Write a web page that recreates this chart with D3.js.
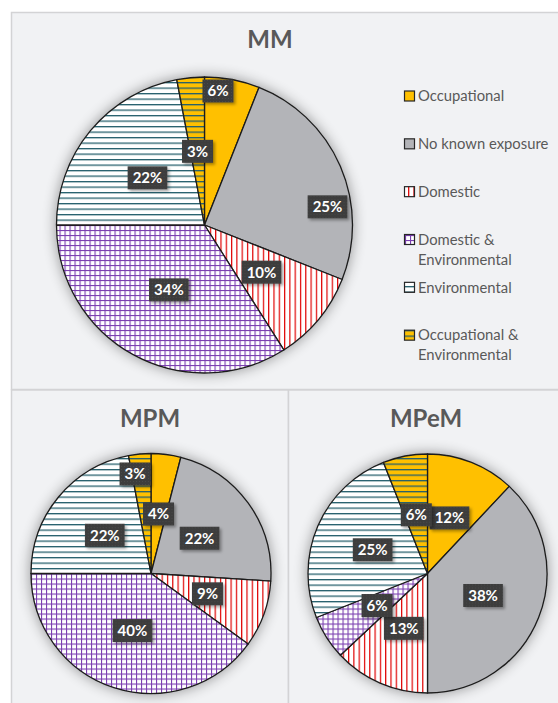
<!DOCTYPE html>
<html>
<head>
<meta charset="utf-8">
<script src="https://cdn.jsdelivr.net/npm/d3@7"></script>
<style>
  html, body { margin: 0; padding: 0; background: #ffffff; }
  svg { display: block; }
</style>
</head>
<body>
<svg id="chart" width="558" height="703"></svg>
<script>
// ---------------- DATA ----------------
const categories = ["Occupational", "No known exposure", "Domestic",
  "Domestic & Environmental", "Environmental", "Occupational & Environmental"];
const legendLines = [["Occupational"], ["No known exposure"], ["Domestic"],
  ["Domestic &", "Environmental"], ["Environmental"], ["Occupational &", "Environmental"]];
const chartTitles = ["MM", "MPM", "MPeM"];
const mmValues   = [6, 25, 10, 34, 22, 3];
const mpmValues  = [4, 22, 9, 40, 22, 3];
const mpemValues = [12, 38, 13, 6, 25, 6];

// ---------------- STYLE / LAYOUT ----------------
const fillIds = ["occ", "nke", "dom", "de", "env", "oe"];
const panelBg = "#f1f2f4", panelBorder = "#d3d3d5", textGray = "#595959";
const FONT = "Lato, 'Open Sans', 'DejaVu Sans', sans-serif";
const layouts = [
  { cx: 204.5, cy: 225,   r: 148,   tx: 270,   ty: 48  },
  { cx: 151,   cy: 573.5, r: 120,   tx: 150,   ty: 427 },
  { cx: 427.5, cy: 573.5, r: 119.5, tx: 426,   ty: 427 }
];
// labels Excel moved away from the default centroid: [chart, slice] -> radial fraction, angle (deg)
const labelMoves = { "0-0": [0.91, 5.75], "0-1": [0.84, 81.6], "1-5": [0.84, -9.1] };

const svg = d3.select("#chart");
const defs = svg.append("defs");

function pat(id, w, h, bg, draw) {
  const p = defs.append("pattern").attr("id", id).attr("patternUnits", "userSpaceOnUse")
    .attr("width", w).attr("height", h);
  p.append("rect").attr("width", w).attr("height", h).attr("fill", bg);
  if (draw) draw(p);
  return p;
}
pat("occ", 4, 4, "#ffc000");
pat("nke", 4, 4, "#b3b4b8");
pat("dom", 5.3, 6, "#ffffff", p => p.append("rect").attr("x", 0).attr("y", 0).attr("width", 1.2).attr("height", 6).attr("fill", "#e00000"));
pat("de", 5, 5, "#ffffff", p => {
  p.append("rect").attr("x", 0).attr("y", 0).attr("width", 1.1).attr("height", 5).attr("fill", "#7b3fb0");
  p.append("rect").attr("x", 0).attr("y", 0).attr("width", 5).attr("height", 1.1).attr("fill", "#7b3fb0");
});
pat("env", 6, 5.5, "#ffffff", p => p.append("rect").attr("x", 0).attr("y", 0).attr("width", 6).attr("height", 1.3).attr("fill", "#245f6c"));
pat("oe", 6, 5.5, "#ffc000", p => p.append("rect").attr("x", 0).attr("y", 0).attr("width", 6).attr("height", 1.3).attr("fill", "#245f6c"));
pat("lbl", 3, 3, "#3d3d3d", p => p.append("rect").attr("x", 1).attr("y", 1).attr("width", 1).attr("height", 1).attr("fill", "#494949"));

const glow = defs.append("filter").attr("id", "glow").attr("x", "-30%").attr("y", "-30%").attr("width", "160%").attr("height", "160%");
glow.append("feGaussianBlur").attr("in", "SourceAlpha").attr("stdDeviation", 7).attr("result", "b");
glow.append("feComponentTransfer").attr("in", "b").attr("result", "s")
  .append("feFuncA").attr("type", "linear").attr("slope", 0.4);
const gm = glow.append("feMerge");
gm.append("feMergeNode").attr("in", "s");
gm.append("feMergeNode").attr("in", "SourceGraphic");

const ds = defs.append("filter").attr("id", "lblShadow").attr("x", "-30%").attr("y", "-30%").attr("width", "160%").attr("height", "160%");
ds.append("feDropShadow").attr("dx", 2).attr("dy", 2).attr("stdDeviation", 1.5).attr("flood-color", "#000").attr("flood-opacity", 0.35);

// ---------------- PANELS ----------------
svg.append("rect").attr("x", 11.5).attr("y", 12.5).attr("width", 560).attr("height", 377)
  .attr("fill", panelBg).attr("stroke", panelBorder).attr("stroke-width", 1.5);
svg.append("rect").attr("x", 11.5).attr("y", 390).attr("width", 277).attr("height", 330)
  .attr("fill", panelBg).attr("stroke", panelBorder).attr("stroke-width", 1.5);
svg.append("rect").attr("x", 288.5).attr("y", 390).attr("width", 280).attr("height", 330)
  .attr("fill", panelBg).attr("stroke", panelBorder).attr("stroke-width", 1.5);

// ---------------- PIES ----------------
const allValues = [mmValues, mpmValues, mpemValues];
const pie = d3.pie().sort(null).value(d => d);

allValues.forEach((vals, ci) => {
  const L = layouts[ci];
  const g = svg.append("g").attr("transform", `translate(${L.cx},${L.cy})`);
  const arc = d3.arc().innerRadius(0).outerRadius(L.r);
  const arcs = pie(vals);

  svg.append("text").attr("x", L.tx).attr("y", L.ty).attr("text-anchor", "middle")
    .attr("font-family", FONT).attr("font-weight", 700).attr("font-size", 24)
    .attr("fill", textGray).text(chartTitles[ci]);

  const slices = g.append("g").attr("filter", "url(#glow)");
  slices.selectAll("path").data(arcs).join("path")
    .attr("d", arc)
    .attr("fill", (d, i) => `url(#${fillIds[i]})`)
    .attr("stroke", "#1c1c1c").attr("stroke-width", 1.3).attr("stroke-linejoin", "round");

  const lab = g.append("g");
  arcs.forEach((d, i) => {
    const key = ci + "-" + i;
    let x, y;
    if (labelMoves[key]) {
      const [f, a] = labelMoves[key];
      const rad = a * Math.PI / 180;
      x = Math.sin(rad) * f * L.r; y = -Math.cos(rad) * f * L.r;
    } else {
      const mid = (d.startAngle + d.endAngle) / 2;
      x = Math.sin(mid) * 0.5 * L.r; y = -Math.cos(mid) * 0.5 * L.r;
    }
    const lg = lab.append("g").attr("transform", `translate(${x},${y})`);
    const rect = lg.append("rect").attr("fill", "url(#lbl)").attr("filter", "url(#lblShadow)");
    const t = lg.append("text").attr("text-anchor", "middle").attr("dy", "0.36em")
      .attr("font-family", FONT).attr("font-weight", 700).attr("font-size", 15)
      .attr("fill", "#ffffff").text(d.data + "%");
    const w = t.node().getComputedTextLength() + 10;
    rect.attr("x", -w / 2).attr("y", -11.5).attr("width", w).attr("height", 23);
  });
});

// ---------------- LEGEND ----------------
const legendY = d3.scaleBand().domain(d3.range(categories.length)).range([72, 359]);
const leg = svg.append("g");
categories.forEach((c, i) => {
  const y0 = legendY(i) + 24;
  leg.append("rect").attr("x", 404.5).attr("y", y0 - 5).attr("width", 10).attr("height", 10)
    .attr("fill", `url(#${fillIds[i]})`).attr("stroke", "#262626").attr("stroke-width", 1.2);
  const t = leg.append("text").attr("x", 418).attr("y", y0)
    .attr("font-family", FONT).attr("font-size", 14.8).attr("fill", textGray);
  legendLines[i].forEach((ln, k) => {
    t.append("tspan").attr("x", 418).attr("dy", k === 0 ? "0.35em" : 20).text(ln);
  });
});
</script>
</body>
</html>
